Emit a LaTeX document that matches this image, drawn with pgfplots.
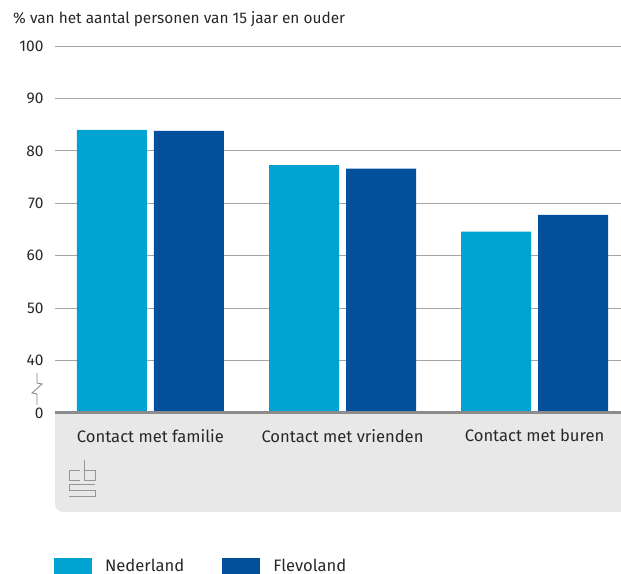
\documentclass[border=0pt]{standalone}
\usepackage{fontspec}
\setmainfont{Fira Sans}
\usepackage{pgfplots}
\pgfplotsset{compat=1.18}
\definecolor{ned}{RGB}{0,163,210}
\definecolor{fle}{RGB}{0,80,155}
\definecolor{txt}{RGB}{40,40,40}
\definecolor{gridc}{RGB}{165,165,165}
\definecolor{panel}{RGB}{232,232,232}
\definecolor{axl}{RGB}{140,140,140}
\definecolor{logo}{RGB}{150,150,150}
\begin{document}
\begin{tikzpicture}[x=1pt,y=1pt]
\useasboundingbox (0,0) rectangle (621,573);
% panel below the axis
\fill[panel] (55,160) -- (55,69) arc(180:270:8) -- (621,61) -- (621,160) -- cycle;
% title
\node[anchor=base west, text=txt, font=\fontsize{15.4}{18}\selectfont, inner sep=0pt] at (13,549) {\% van het aantal personen van 15 jaar en ouder};
\begin{axis}[
  at={(55pt,160pt)}, anchor=south west,
  scale only axis, width=566pt, height=367pt,
  xmin=-0.497, xmax=2.45, ymin=30, ymax=100,
  axis line style={draw=none},
  major tick length=0pt,
  ytick={30,40,50,60,70,80,90,100},
  yticklabels={0,40,50,60,70,80,90,100},
  ymajorgrids, grid style={gridc, line width=0.8pt},
  yticklabel style={text=txt, font=\fontsize{15.5}{18}\selectfont, xshift=-8pt},
  /pgf/number format/assume math mode=true,
  xtick={0,1,2},
  xticklabels={Contact met familie, Contact met vrienden, Contact met buren},
  xticklabel style={text=txt, font=\fontsize{16.6}{19}\selectfont, yshift=-13pt},
  ybar=7pt, bar width=70pt,
  legend style={at={(rel axis cs:-0.002,-0.417)}, anchor=west, draw=none, fill=none,
    inner sep=0pt, legend columns=2, font=\fontsize{16.6}{19}\selectfont, text=txt,
    /tikz/every even column/.append style={column sep=38pt},
    nodes={inner sep=0pt, xshift=0pt}},
  legend image code/.code={\fill[#1] (0pt,-8pt) rectangle (38pt,8pt);},
  legend cell align=left,
  clip=true,
]
\addplot[fill=ned, draw=none] coordinates {(0,84.0) (1,77.3) (2,64.6)};
\addlegendentry{\hspace{13pt}Nederland}
\addplot[fill=fle, draw=none] coordinates {(0,83.8) (1,76.6) (2,67.8)};
\addlegendentry{\hspace{13pt}Flevoland}
\end{axis}
% axis line
\draw[axl, line width=3pt] (55,160) -- (621,160);
% axis break
\draw[gridc!80!black, line width=0.8pt] (37,200) -- (37,190) -- (42,189) -- (32,180) -- (37,179) -- (37,168);
% logo
\begin{scope}[logo, line width=0.9pt, double=panel, double distance=1.8pt]
\draw (80,103) -- (69,103) -- (69,93) -- (80,93);
\draw (84,113) -- (84,93) -- (95,93) -- (95,103) -- (84,103);
\draw (95,89) -- (69,89) -- (69,83) -- (95,83) -- (95,77) -- (69,77);
\end{scope}
\end{tikzpicture}
\end{document}
